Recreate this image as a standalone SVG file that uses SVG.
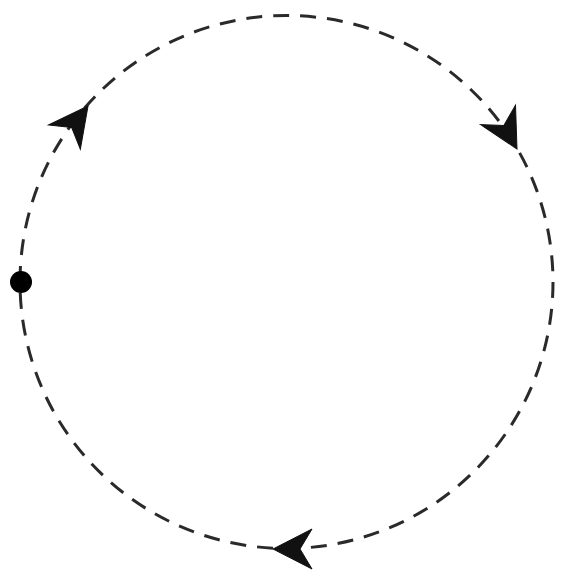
<svg xmlns="http://www.w3.org/2000/svg" width="573" height="580" viewBox="0 0 573 580">
  <style>
    .path { fill: none; stroke: #2a2a2a; stroke-width: 3; stroke-dasharray: 16 11; }
    .head { fill: #111; stroke: #111; stroke-width: 1; stroke-linejoin: miter; }
  </style>
  <defs>
    <path id="ah" d="M0,0 L-39,-20 L-27,0 L-39,20 Z"/>
  </defs>
  <rect width="573" height="580" fill="#ffffff"/>
  <g id="connectors">
    <circle class="path" cx="286.5" cy="282" r="266.5"/>
    <use href="#ah" class="head" transform="translate(88,106) rotate(-52.8)"/>
    <use href="#ah" class="head" transform="translate(517,149) rotate(60.9)"/>
    <use href="#ah" class="head" transform="translate(273,549) rotate(180)"/>
  </g>
  <g id="start">
    <circle cx="21" cy="282" r="11" fill="#000"/>
  </g>
</svg>
